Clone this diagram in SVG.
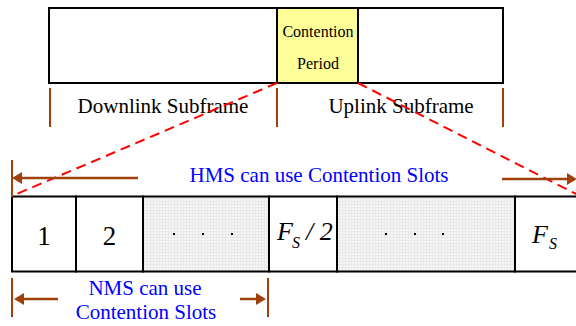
<svg xmlns="http://www.w3.org/2000/svg" width="576" height="326" viewBox="0 0 576 326">
  <style>
    .box { fill: #ffffff; stroke: #000000; stroke-width: 2; }
    .shade { fill: url(#grid); stroke: #000000; stroke-width: 2; }
    .label { font-family: "Liberation Serif", "Times New Roman", serif; fill: #000000; }
    .blue { font-family: "Liberation Serif", "Times New Roman", serif; fill: #0000ff; font-size: 21px; text-anchor: middle; }
    .tick { stroke: #a0410d; stroke-width: 2; }
    .arrow { stroke: #a0410d; stroke-width: 2.5; fill: none; }
    .head { fill: #a0410d; }
    .dash { stroke: #ff0000; stroke-width: 2; stroke-dasharray: 10 6; fill: none; }
    .dot { fill: #000000; }
  </style>
  <defs>
    <pattern id="grid" width="3" height="3" patternUnits="userSpaceOnUse">
      <rect width="3" height="3" fill="#f5f5f5"/>
      <path d="M0 0.5H3M0.5 0V3" stroke="#e2e2e2" stroke-width="0.6"/>
    </pattern>
  </defs>

  <!-- frame: downlink / contention / uplink -->
  <g id="frame">
    <rect class="box" x="49" y="8" width="454" height="75"/>
    <rect x="277" y="8" width="81" height="75" fill="#ffff99" stroke="#000000" stroke-width="2"/>
    <text class="label" x="318" y="37" font-size="16" text-anchor="middle">Contention</text>
    <text class="label" x="318" y="69" font-size="16" text-anchor="middle">Period</text>
  </g>

  <g id="subframe-labels">
    <line class="tick" x1="50" y1="88" x2="50" y2="127"/>
    <line class="tick" x1="277" y1="88" x2="277" y2="127"/>
    <line class="tick" x1="503" y1="88" x2="503" y2="127"/>
    <text class="label" x="163" y="113" font-size="21" text-anchor="middle">Downlink Subframe</text>
    <text class="label" x="401" y="113" font-size="21" text-anchor="middle">Uplink Subframe</text>
  </g>

  <!-- contention slots -->
  <g id="slot-1">
    <rect class="box" x="12" y="196.5" width="64" height="75"/>
    <text class="label" x="44" y="245" font-size="27" text-anchor="middle">1</text>
  </g>
  <g id="slot-2">
    <rect class="box" x="76" y="196.5" width="67" height="75"/>
    <text class="label" x="109.5" y="245" font-size="27" text-anchor="middle">2</text>
  </g>
  <g id="slots-mid-1">
    <rect class="shade" x="143" y="196.5" width="126" height="75"/>
    <rect class="dot" x="173" y="233" width="2" height="2"/>
    <rect class="dot" x="202" y="233" width="2" height="2"/>
    <rect class="dot" x="231" y="233" width="2" height="2"/>
  </g>
  <g id="slot-half">
    <rect class="box" x="269" y="196.5" width="68" height="75"/>
    <text class="label" x="277" y="240" font-size="26" font-style="italic">F</text>
    <text class="label" x="292" y="248" font-size="16" font-style="italic">S</text>
    <text class="label" x="306" y="240" font-size="26" font-style="italic">/ 2</text>
  </g>
  <g id="slots-mid-2">
    <rect class="shade" x="337" y="196.5" width="178" height="75"/>
    <rect class="dot" x="385" y="233" width="2" height="2"/>
    <rect class="dot" x="414" y="233" width="2" height="2"/>
    <rect class="dot" x="442" y="233" width="2" height="2"/>
  </g>
  <g id="slot-last">
    <path d="M580 196.5H515V271.5H580" fill="#ffffff" stroke="#000000" stroke-width="2"/>
    <text class="label" x="532" y="243" font-size="26" font-style="italic">F</text>
    <text class="label" x="549" y="249" font-size="16" font-style="italic">S</text>
  </g>

  <!-- connectors: zoom lines and range arrows -->
  <g id="connectors">
    <line class="dash" x1="277" y1="83" x2="12" y2="196"/>
    <line class="dash" x1="358" y1="83" x2="580" y2="196"/>

    <line class="tick" x1="12" y1="160" x2="12" y2="197"/>
    <line class="arrow" x1="138" y1="178" x2="20" y2="178"/>
    <polygon class="head" points="12,178 22,172 22,184"/>
    <line class="arrow" x1="502" y1="179" x2="568" y2="179"/>
    <polygon class="head" points="577,179 567,173 567,185"/>

    <line class="tick" x1="12" y1="278" x2="12" y2="317"/>
    <line class="tick" x1="268" y1="278" x2="268" y2="317"/>
    <line class="arrow" x1="58" y1="299" x2="22" y2="299"/>
    <polygon class="head" points="14,299 24,293 24,305"/>
    <line class="arrow" x1="240" y1="299" x2="257" y2="299"/>
    <polygon class="head" points="266,299 256,293 256,305"/>
  </g>

  <g id="range-labels">
    <text class="blue" x="319" y="182">HMS can use Contention Slots</text>
    <text class="blue" x="145" y="295">NMS can use</text>
    <text class="blue" x="146" y="319">Contention Slots</text>
  </g>
</svg>
